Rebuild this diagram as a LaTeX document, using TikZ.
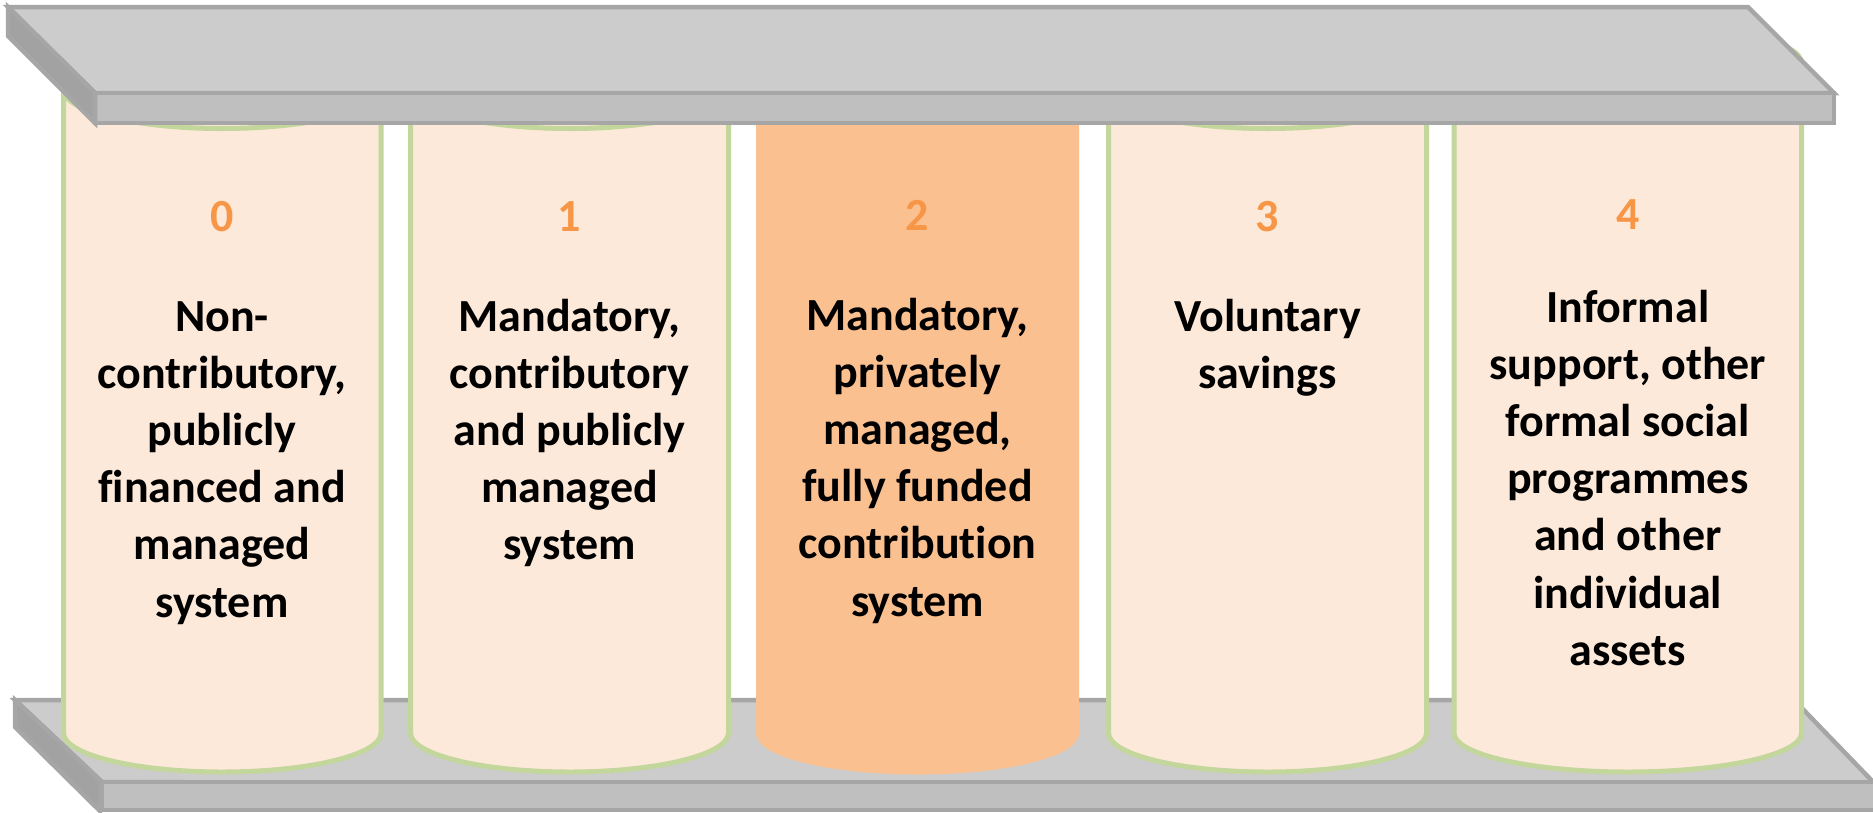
\documentclass[tikz,border=0pt]{standalone}
\usepackage{fontspec}
\setmainfont{Carlito}[Ligatures=NoCommon]
\definecolor{slabtop}{HTML}{CCCCCC}
\definecolor{slabedge}{HTML}{A6A6A6}
\definecolor{slabfront}{HTML}{BFBFBF}
\definecolor{slabside}{HTML}{A2A2A2}
\definecolor{pillarfill}{HTML}{FDE9D9}
\definecolor{pillarline}{HTML}{C3D69B}
\definecolor{pillarhi}{HTML}{FAC090}
\definecolor{tiernum}{HTML}{F79646}
\tikzset{
  slab/.style={draw=slabedge, line width=4.5pt, line join=miter},
  pillar/.style={line width=5pt},
  tiernumber/.style={anchor=base, text=tiernum, font=\bfseries\fontsize{46}{57.2}\selectfont, inner sep=0pt},
  % multi-line nodes sit on the baseline of their last line
  tiertext/.style={anchor=base, align=center, text=black, font=\bfseries\fontsize{46}{57.2}\selectfont, inner sep=0pt},
}
\begin{document}
\begin{tikzpicture}[x=1pt, y=-1pt]
\useasboundingbox (0,0) rectangle (1873,812);

% base slab
\draw[slab, fill=slabtop] (15,700) -- (1794,700) -- (1878,787) -- (102,782) -- cycle;
\draw[slab, fill=slabfront] (102,782) rectangle (1885,810);
\draw[slab, fill=slabside] (15,700) -- (15,727) -- (100,811) -- (102,782) -- cycle;

% the five pillars: left x / right x / top y / fill / outline
\foreach \xl/\xr/\yt/\fc/\lc in {
  63.5/381/89.5/pillarfill/pillarline,
  410.5/728.5/89.5/pillarfill/pillarline,
  758.5/1076.5/89.5/pillarhi/pillarhi,
  1108.5/1426.5/89.5/pillarfill/pillarline,
  1454/1801.5/63/pillarfill/pillarline} {
  \pgfmathsetmacro\ra{(\xr-\xl)/2}
  \draw[pillar, fill=\fc, draw=\lc]
    (\xl,\yt) -- (\xl,733)
    arc[start angle=180, end angle=360, x radius=\ra pt, y radius=39pt]
    -- (\xr,\yt)
    arc[start angle=0, end angle=180, x radius=\ra pt, y radius=39pt] -- cycle;
  \draw[pillar, draw=\lc]
    (\xl,\yt) arc[start angle=180, end angle=360, x radius=\ra pt, y radius=39pt];
}

% top slab
\draw[slab, fill=slabtop] (8,7) -- (1748,7) -- (1834,93) -- (95,93) -- cycle;
\draw[slab, fill=slabfront] (95,93) rectangle (1834,123);
\draw[slab, fill=slabside] (8,7) -- (8,36) -- (95,123) -- (95,93) -- cycle;

% tier numbers
\node[tiernumber] (n0) at (222,231) {0};
\node[tiernumber] (n1) at (569.5,231) {1};
\node[tiernumber] (n2) at (917.5,230) {2};
\node[tiernumber] (n3) at (1267.5,231) {3};
\node[tiernumber] (n4) at (1627.8,229) {4};

% tier descriptions
\node[tiertext] (t0) at (222,617) {Non-\\contributory,\\publicly\\financed and\\managed\\system};
\node[tiertext] (t1) at (569.5,559.8) {Mandatory,\\contributory\\and publicly\\managed\\system};
\node[tiertext] (t2) at (917.5,616) {Mandatory,\\privately\\managed,\\fully funded\\contribution\\system};
\node[tiertext] (t3) at (1267.5,388.2) {Voluntary\\savings};
\node[tiertext] (t4) at (1627.8,665.2) {Informal\\support, other\\formal social\\programmes\\and other\\individual\\assets};
\end{tikzpicture}
\end{document}
